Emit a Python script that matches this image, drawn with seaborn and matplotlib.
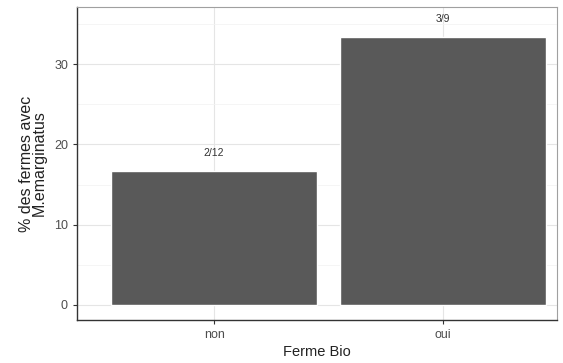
import seaborn as sns
import matplotlib.pyplot as plt
import pandas as pd

ferme_bio = ['non', 'oui']
pourcent = [2 / 12 * 100, 3 / 9 * 100]
etiquettes = ['2/12', '3/9']


def main():
    df = pd.DataFrame({'Ferme Bio': ferme_bio, 'pct': pourcent})

    sns.set_style('white')
    plt.rcParams['font.family'] = ['Liberation Sans', 'DejaVu Sans']

    fig = plt.figure(figsize=(5.63, 3.63), dpi=100)
    ax = fig.add_axes([77 / 563, 1 - 320 / 363, 480 / 563, 313 / 363])

    sns.barplot(data=df, x='Ferme Bio', y='pct', color='#595959', width=0.9,
                saturation=1, ax=ax, zorder=3)

    for i, (v, lab) in enumerate(zip(pourcent, etiquettes)):
        ax.text(i, v + 1.6, lab, ha='center', va='bottom', fontsize=7.5, color='#333333')

    ax.set_xlim(-0.6, 1.5)
    ax.set_ylim(-1.87, 37.1)
    ax.set_yticks([0, 10, 20, 30])
    ax.set_yticks([5, 15, 25, 35], minor=True)
    ax.grid(True, which='major', color='#E5E5E5', linewidth=0.8, zorder=0)
    ax.grid(True, which='minor', axis='y', color='#F2F2F2', linewidth=0.5, zorder=0)
    ax.set_axisbelow(True)

    for s in ['top', 'right']:
        ax.spines[s].set_color('#A0A0A0')
        ax.spines[s].set_linewidth(0.8)
    for s in ['left', 'bottom']:
        ax.spines[s].set_color('#333333')
        ax.spines[s].set_linewidth(1.0)

    ax.tick_params(axis='both', which='major', length=3, color='#333333',
                   labelsize=9, labelcolor='#4D4D4D', left=True, bottom=True)
    ax.tick_params(which='minor', length=0)

    ax.set_xlabel('Ferme Bio', fontsize=10.5, color='#222222', labelpad=3)
    ax.set_ylabel('% des fermes avec\nM.emarginatus', fontsize=11.5, color='#222222',
                  labelpad=5, linespacing=0.85)

    fig.savefig('out.png', dpi=100)


if __name__ == "__main__":
    main()
